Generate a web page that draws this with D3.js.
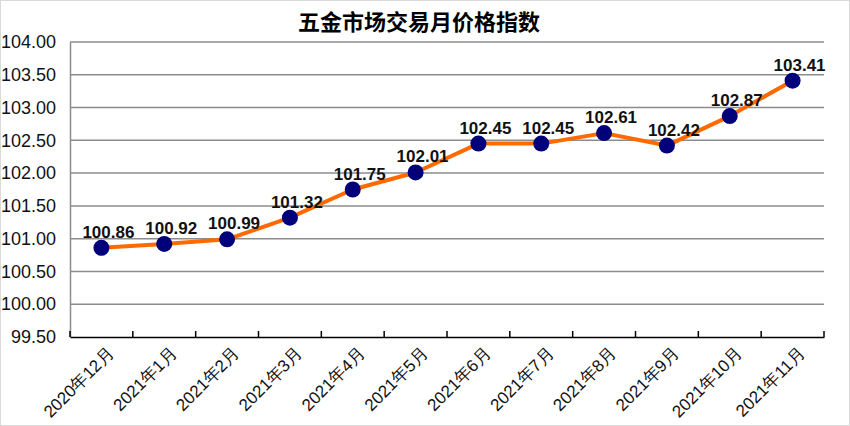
<!DOCTYPE html>
<html><head><meta charset="utf-8">
<script src="https://cdn.jsdelivr.net/npm/d3@7"></script>
<style>body{margin:0;background:#fff}svg{display:block}</style>
</head><body>
<script>
const categories = ["2020年12月","2021年1月","2021年2月","2021年3月","2021年4月","2021年5月","2021年6月","2021年7月","2021年8月","2021年9月","2021年10月","2021年11月"];
const values = [100.86,100.92,100.99,101.32,101.75,102.01,102.45,102.45,102.61,102.42,102.87,103.41];
const yTicks = [99.5,100,100.5,101,101.5,102,102.5,103,103.5,104];
const title = "五金市场交易月价格指数";

const W = 850, H = 426;
const m = {left:70, right:26, top:42, bottom:89};
const svg = d3.select("body").append("svg").attr("width", W).attr("height", H);
svg.append("rect").attr("x",0.5).attr("y",0.5).attr("width",W-1).attr("height",H-1).attr("fill","#fff").attr("stroke","#d9d9d9");

const x = d3.scaleBand().domain(categories).range([m.left, W-m.right]);
const y = d3.scaleLinear().domain([99.5,104]).range([H-m.bottom, m.top]);
const font = "'Liberation Sans', Arial, sans-serif";

svg.append("text").attr("x", 419).attr("y", 30).attr("text-anchor","middle")
  .attr("font-family","'Noto Sans CJK SC', sans-serif").attr("font-weight","bold").attr("font-size",22).attr("fill","#000").text(title);

// gridlines
svg.append("g").selectAll("line").data(yTicks.filter(d=>d>99.5)).join("line")
  .attr("x1", m.left).attr("x2", W-m.right).attr("y1", d=>y(d)).attr("y2", d=>y(d))
  .attr("stroke","#8c8c8c").attr("stroke-width",1.5);

// y axis
const ya = svg.append("g").attr("transform",`translate(${m.left},0)`)
  .call(d3.axisLeft(y).tickValues(yTicks).tickFormat(d3.format(".2f")).tickSize(0).tickPadding(14));
ya.select(".domain").attr("stroke","#8c8c8c").attr("stroke-width",1.5);
ya.selectAll("text").attr("font-family",font).attr("font-size",18).attr("fill","#111");

// x axis
const xa = svg.append("g").attr("transform",`translate(0,${H-m.bottom})`)
  .call(d3.axisBottom(x).tickSize(0).tickFormat(""));
xa.select(".domain").attr("stroke","#000").attr("stroke-width",1.5);
const bounds = categories.map(c=>x(c)).concat([W-m.right]);
xa.selectAll(".sep").data(bounds).join("line").attr("class","sep")
  .attr("x1",d=>d).attr("x2",d=>d).attr("y1",0).attr("y2",-6).attr("stroke","#000").attr("stroke-width",1.5);
svg.append("g").selectAll("text").data(categories).join("text")
  .attr("transform", d=>`translate(${x(d)+x.bandwidth()/2+5},${H-m.bottom+9}) rotate(-45)`)
  .attr("text-anchor","end").attr("dy","0.7em")
  .attr("font-family",font).attr("font-size",17).attr("fill","#111").text(d=>d);

// line
const pts = categories.map((c,i)=>[x(c)+x.bandwidth()/2, y(values[i])]);
svg.append("path").attr("d", d3.line()(pts)).attr("fill","none").attr("stroke","#ff6a00").attr("stroke-width",4).attr("stroke-linejoin","round");
svg.append("g").selectAll("circle").data(pts).join("circle")
  .attr("cx",d=>d[0]).attr("cy",d=>d[1]).attr("r",8).attr("fill","#00007a");

svg.append("g").selectAll("text").data(values).join("text")
  .attr("x",(d,i)=>pts[i][0]+7).attr("y",(d,i)=>pts[i][1]-10)
  .attr("text-anchor","middle").attr("font-family",font).attr("font-weight","bold").attr("font-size",17).attr("fill","#111")
  .text(d=>d.toFixed(2));
</script>
</body></html>
